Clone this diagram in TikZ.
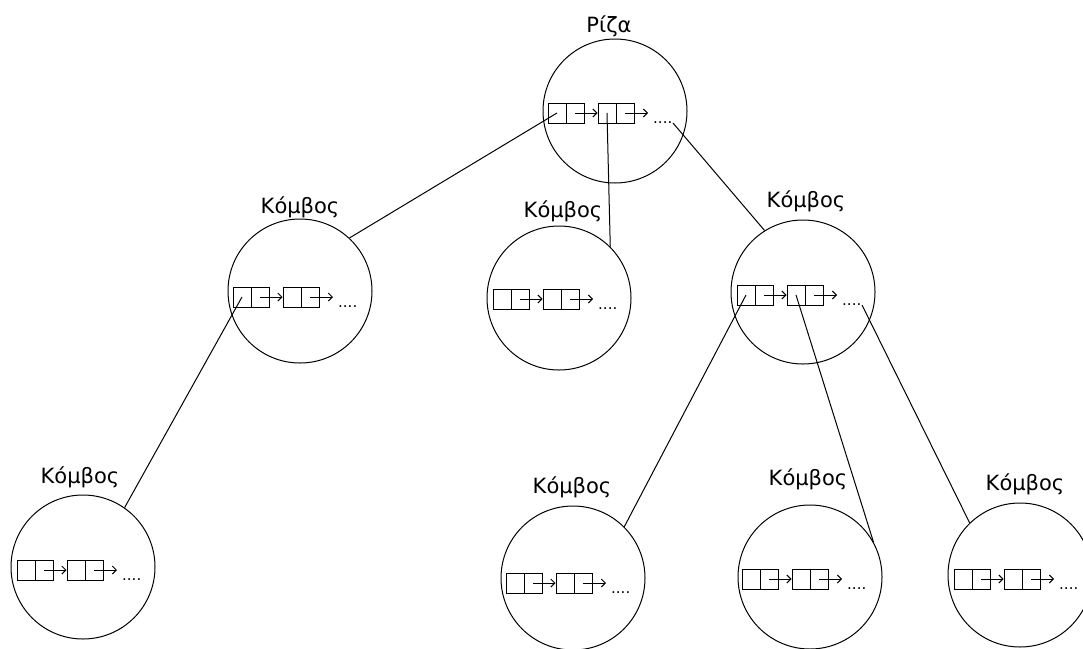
\documentclass[tikz,border=0pt]{standalone}
\usepackage{fontspec}
\setmainfont{DejaVu Sans}
\usetikzlibrary{arrows.meta}
\tikzset{
  treenode/.style={circle, draw, line width=1pt, minimum size=144pt, inner sep=0pt},
  cell/.style={draw, line width=1pt, minimum width=18pt, minimum height=20pt, inner sep=0pt},
  lbl/.style={anchor=base, inner sep=0pt, font=\fontsize{21}{25}\selectfont},
  dotstxt/.style={anchor=base west, inner sep=0pt, font=\fontsize{15}{18}\selectfont},
  link/.style={line width=1pt},
  ptr/.style={line width=1pt, -{Straight Barb[length=4pt,width=8pt]}},
  llist/.pic={
    \node[cell] (-c1) at (9,10) {};
    \node[cell] (-c2) at (27,10) {};
    \node[cell] (-c3) at (59,10) {};
    \node[cell] (-c4) at (77,10) {};
    \coordinate (-e) at (100,10);
    \draw[ptr] (-c2.center) -- (-c3.west);
    \draw[ptr] (-c4.center) -- (-e);
    \node[dotstxt] (-d) at (105,20) {....};
    \coordinate (-de) at (125,20);
  }
}
\begin{document}
\begin{tikzpicture}[x=1pt,y=-1pt]
\useasboundingbox (0,0) rectangle (1083,648);
\clip (0,0) rectangle (1083,648);

% circles
\node[treenode] (root) at (615,111) {};
\node[treenode] (left) at (300,291) {};
\node[treenode] (mid) at (559,298) {};
\node[treenode] (right) at (803,292) {};
\node[treenode] (bl) at (83,567) {};
\node[treenode] (bml) at (573,578) {};
\node[treenode] (bm) at (810,577) {};
\node[treenode] (br) at (1020,575) {};

% labels
\node[lbl] (lroot) at (609,32) {Ρίζα};
\node[lbl] (lleft) at (300,213) {Κόμβος};
\node[lbl] (lmid) at (563,217) {Κόμβος};
\node[lbl] (lright) at (806,207) {Κόμβος};
\node[lbl] (lbl) at (80,483) {Κόμβος};
\node[lbl] (lbml) at (572,493) {Κόμβος};
\node[lbl] (lbm) at (808,485) {Κόμβος};
\node[lbl] (lbr) at (1025,490) {Κόμβος};

% lists
\pic (rootL) at (548,103) {llist};
\pic (leftL) at (233,287) {llist};
\pic (midL) at (493,289) {llist};
\pic (rightL) at (737,285) {llist};
\pic (blL) at (17,560) {llist};
\pic (bmlL) at (506,573) {llist};
\pic (bmL) at (742,569) {llist};
\pic (brL) at (954,569) {llist};

% connectors
\draw[link] (rootL-c1.center) -- (left.47);
\draw[link] (rootL-c3.center) -- (mid.45);
\draw[link] (rootL-de) -- (right.122);
\draw[link] (leftL-c1.center) -- (bl.55);
\draw[link] (rightL-c1.center) -- (bml.45);
\draw[link] (rightL-c3.center) -- (bm.29);
\draw[link] (rightL-de) -- (br.134);
\end{tikzpicture}
\end{document}
